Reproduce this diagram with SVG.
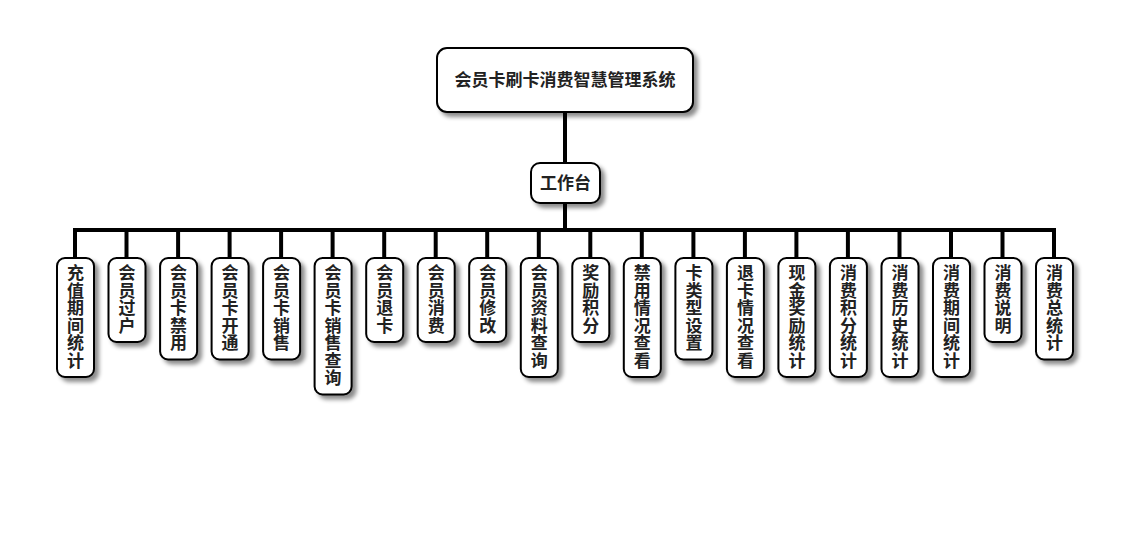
<svg xmlns="http://www.w3.org/2000/svg" width="1130" height="560" viewBox="0 0 1130 560">
<defs>
<filter id="sh" x="-30%" y="-30%" width="160%" height="160%">
<feDropShadow dx="4" dy="4" stdDeviation="2.2" flood-color="#000" flood-opacity="0.45"/>
</filter>
<style>
.box{fill:#fff;stroke:#000;stroke-width:2;filter:url(#sh)}
.t{font-family:"Noto Sans CJK SC","Noto Sans",sans-serif;font-weight:bold;font-size:17px;fill:#222;text-anchor:middle}
.v{font-family:"Noto Sans CJK SC","Noto Sans",sans-serif;font-weight:bold;font-size:17px;fill:#222;writing-mode:vertical-rl;text-anchor:start;letter-spacing:0.5px}
.c{stroke:#000;stroke-width:4;fill:none}
</style>
</defs>
<rect width="1130" height="560" fill="#fff"/>
<g id="connectors">
<line class="c" x1="565" y1="112" x2="565" y2="163"/>
<line class="c" x1="565" y1="203" x2="565" y2="230"/>
<polyline class="c" points="75,258 75,230 1054,230 1054,258"/>
<line class="c" x1="126.5" y1="230" x2="126.5" y2="258"/>
<line class="c" x1="178.1" y1="230" x2="178.1" y2="258"/>
<line class="c" x1="229.6" y1="230" x2="229.6" y2="258"/>
<line class="c" x1="281.1" y1="230" x2="281.1" y2="258"/>
<line class="c" x1="332.6" y1="230" x2="332.6" y2="258"/>
<line class="c" x1="384.2" y1="230" x2="384.2" y2="258"/>
<line class="c" x1="435.7" y1="230" x2="435.7" y2="258"/>
<line class="c" x1="487.2" y1="230" x2="487.2" y2="258"/>
<line class="c" x1="538.8" y1="230" x2="538.8" y2="258"/>
<line class="c" x1="590.3" y1="230" x2="590.3" y2="258"/>
<line class="c" x1="641.8" y1="230" x2="641.8" y2="258"/>
<line class="c" x1="693.4" y1="230" x2="693.4" y2="258"/>
<line class="c" x1="744.9" y1="230" x2="744.9" y2="258"/>
<line class="c" x1="796.4" y1="230" x2="796.4" y2="258"/>
<line class="c" x1="847.9" y1="230" x2="847.9" y2="258"/>
<line class="c" x1="899.5" y1="230" x2="899.5" y2="258"/>
<line class="c" x1="951" y1="230" x2="951" y2="258"/>
<line class="c" x1="1002.5" y1="230" x2="1002.5" y2="258"/>
</g>
<g id="root">
<rect class="box" x="437" y="48" width="256" height="64" rx="10"/>
<text class="t" x="565" y="86">会员卡刷卡消费智慧管理系统</text>
</g>
<g id="workbench">
<rect class="box" x="531" y="163" width="69" height="40" rx="9"/>
<text class="t" x="565.5" y="189">工作台</text>
</g>
<g id="n0"><rect class="box" x="57" y="258" width="37" height="119" rx="8"/><text class="v" x="75.5" y="264.5">充值期间统计</text></g>
<g id="n1"><rect class="box" x="108.5" y="258" width="37" height="84" rx="8"/><text class="v" x="127" y="264.5">会员过户</text></g>
<g id="n2"><rect class="box" x="160.1" y="258" width="37" height="101.5" rx="8"/><text class="v" x="178.6" y="264.5">会员卡禁用</text></g>
<g id="n3"><rect class="box" x="211.6" y="258" width="37" height="101.5" rx="8"/><text class="v" x="230.1" y="264.5">会员卡开通</text></g>
<g id="n4"><rect class="box" x="263.1" y="258" width="37" height="101.5" rx="8"/><text class="v" x="281.6" y="264.5">会员卡销售</text></g>
<g id="n5"><rect class="box" x="314.6" y="258" width="37" height="136.5" rx="8"/><text class="v" x="333.1" y="264.5">会员卡销售查询</text></g>
<g id="n6"><rect class="box" x="366.2" y="258" width="37" height="84" rx="8"/><text class="v" x="384.7" y="264.5">会员退卡</text></g>
<g id="n7"><rect class="box" x="417.7" y="258" width="37" height="84" rx="8"/><text class="v" x="436.2" y="264.5">会员消费</text></g>
<g id="n8"><rect class="box" x="469.2" y="258" width="37" height="84" rx="8"/><text class="v" x="487.7" y="264.5">会员修改</text></g>
<g id="n9"><rect class="box" x="520.8" y="258" width="37" height="119" rx="8"/><text class="v" x="539.3" y="264.5">会员资料查询</text></g>
<g id="n10"><rect class="box" x="572.3" y="258" width="37" height="84" rx="8"/><text class="v" x="590.8" y="264.5">奖励积分</text></g>
<g id="n11"><rect class="box" x="623.8" y="258" width="37" height="119" rx="8"/><text class="v" x="642.3" y="264.5">禁用情况查看</text></g>
<g id="n12"><rect class="box" x="675.4" y="258" width="37" height="101.5" rx="8"/><text class="v" x="693.9" y="264.5">卡类型设置</text></g>
<g id="n13"><rect class="box" x="726.9" y="258" width="37" height="119" rx="8"/><text class="v" x="745.4" y="264.5">退卡情况查看</text></g>
<g id="n14"><rect class="box" x="778.4" y="258" width="37" height="119" rx="8"/><text class="v" x="796.9" y="264.5">现金奖励统计</text></g>
<g id="n15"><rect class="box" x="829.9" y="258" width="37" height="119" rx="8"/><text class="v" x="848.4" y="264.5">消费积分统计</text></g>
<g id="n16"><rect class="box" x="881.5" y="258" width="37" height="119" rx="8"/><text class="v" x="900" y="264.5">消费历史统计</text></g>
<g id="n17"><rect class="box" x="933" y="258" width="37" height="119" rx="8"/><text class="v" x="951.5" y="264.5">消费期间统计</text></g>
<g id="n18"><rect class="box" x="984.5" y="258" width="37" height="84" rx="8"/><text class="v" x="1003" y="264.5">消费说明</text></g>
<g id="n19"><rect class="box" x="1036" y="258" width="37" height="101.5" rx="8"/><text class="v" x="1054.5" y="264.5">消费总统计</text></g>
</svg>
